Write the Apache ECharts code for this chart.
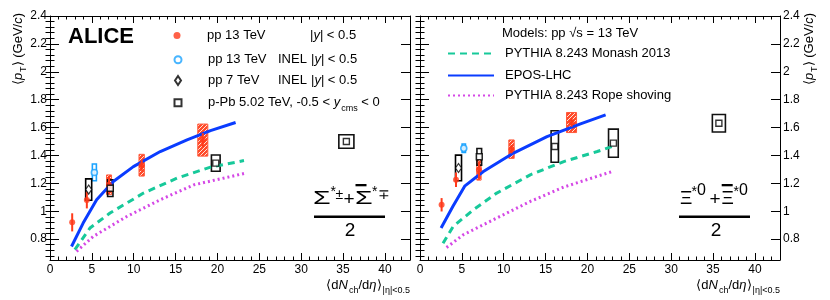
<!DOCTYPE html>
<html><head><meta charset="utf-8">
<script src="https://cdn.jsdelivr.net/npm/echarts@6/dist/echarts.min.js"></script>
<style>html,body{margin:0;padding:0;background:#fff}#c{width:830px;height:300px}</style>
</head><body><div id="c"></div>
<script>
const FONT = '"Liberation Sans", Arial, Helvetica, sans-serif';

// ---- tick labels ----
const xTickLabels = [0, 5, 10, 15, 20, 25, 30, 35, 40];
const yTickLabels = [0.8, 1, 1.2, 1.4, 1.6, 1.8, 2, 2.2, 2.4];

// ---- Sigma* panel: data ----
const sigPP13X = [2.65, 4.4, 7.05, 10.95, 18.25];
const sigPP13Y = [0.92, 1.08, 1.19, 1.33, 1.51];
const sigPP13Stat = [0.065, 0.06, 0.06, 0.04, 0.05];
const sigPP13Sys = [0, 0, 0.07, 0.078, 0.115];
const sigPP13SysX = [0, 0, 0.3, 0.32, 0.6];

const sigINELX = [5.3];
const sigINELY = [1.278];
const sigINELStat = [0.02];
const sigINELSys = [0.06];
const sigINELSysX = [0.24];

const sigPP7X = [4.62];
const sigPP7Y = [1.155];
const sigPP7Sys = [0.077];
const sigPP7SysX = [0.36];

const sigPPbX = [7.2, 19.8, 35.4];
const sigPPbY = [1.165, 1.345, 1.50];
const sigPPbSys = [0.06, 0.058, 0.048];
const sigPPbSysX = [0.32, 0.52, 0.9];

// ---- Sigma* panel: models ----
const sigEposX = [2.57, 3.96, 5.57, 7.56, 9.96, 13.17, 16.37, 19.17, 22.17];
const sigEposY = [0.747, 0.915, 1.082, 1.213, 1.32, 1.428, 1.512, 1.578, 1.636];
const sigMonashX = [2.97, 4.77, 7.17, 11.17, 15.17, 19.17, 23.17];
const sigMonashY = [0.724, 0.879, 0.987, 1.13, 1.237, 1.316, 1.363];
const sigRopeX = [3.17, 5.17, 9.17, 13.17, 17.17, 23.17];
const sigRopeY = [0.712, 0.819, 0.962, 1.082, 1.189, 1.27];

// ---- Xi* panel: data ----
const xiPP13X = [2.58, 4.3, 7.04, 10.93, 18.1];
const xiPP13Y = [1.046, 1.225, 1.297, 1.445, 1.636];
const xiPP13Stat = [0.048, 0.052, 0.06, 0.03, 0.03];
const xiPP13Sys = [0, 0, 0.074, 0.066, 0.072];
const xiPP13SysX = [0, 0, 0.26, 0.32, 0.6];

const xiINELX = [5.23];
const xiINELY = [1.452];
const xiINELStat = [0.012];
const xiINELSys = [0.03];
const xiINELSysX = [0.2];

const xiPP7X = [4.6];
const xiPP7Y = [1.31];
const xiPP7Sys = [0.092];
const xiPP7SysX = [0.36];

const xiPPbX = [7.08, 16.1, 23.1, 35.7];
const xiPPbY = [1.39, 1.464, 1.488, 1.631];
const xiPPbSys = [0.06, 0.113, 0.101, 0.063];
const xiPPbSysX = [0.28, 0.44, 0.58, 0.78];

// ---- Xi* panel: models ----
const xiEposX = [2.52, 3.92, 5.37, 7.57, 11.17, 15.17, 19.17, 22.17];
const xiEposY = [0.879, 1.034, 1.182, 1.285, 1.417, 1.535, 1.626, 1.691];
const xiMonashX = [2.75, 3.97, 6.37, 9.17, 13.17, 17.17, 21.17, 22.97];
const xiMonashY = [0.77, 0.891, 1.01, 1.13, 1.261, 1.356, 1.428, 1.464];
const xiRopeX = [3.17, 5.17, 9.17, 13.17, 17.17, 22.97];
const xiRopeY = [0.74, 0.831, 0.951, 1.07, 1.173, 1.285];

// ---- names ----
const NAME_PP13 = 'pp 13 TeV';
const NAME_INEL = 'pp 13 TeV INEL';
const NAME_PP7 = 'pp 7 TeV INEL';
const NAME_PPB = 'p-Pb 5.02 TeV';
const NAME_MONASH = 'PYTHIA 8.243 Monash 2013';
const NAME_EPOS = 'EPOS-LHC';
const NAME_ROPE = 'PYTHIA 8.243 Rope shoving';

// ---- colours ----
const RED = '#ff3a1a';
const AZURE = '#1aa3ff';
const BLUE = '#0a3cff';
const TEAL = '#17c99a';
const MAGENTA = '#d548e6';

function makeHatch() {
  const c = document.createElement('canvas');
  c.width = 4; c.height = 4;
  const g = c.getContext('2d');
  g.fillStyle = '#ff4a2a'; g.fillRect(0, 0, 4, 4);
  g.strokeStyle = 'rgba(255,235,225,0.95)'; g.lineWidth = 1;
  g.beginPath();
  g.moveTo(0, 4); g.lineTo(4, 0);
  g.moveTo(-1, 1); g.lineTo(1, -1);
  g.moveTo(3, 5); g.lineTo(5, 3);
  g.stroke();
  return c;
}
const HATCH = { image: makeHatch(), repeat: 'repeat' };

const range = (a, b, s) => { const r = []; for (let v = a; v <= b + 1e-9; v += s) r.push(Math.round(v * 1000) / 1000); return r; };
const xMinor = range(0, 43, 1);
const yMinor = range(0.68, 2.4, 0.04);

function xAxesFor(g) {
  const base = { type: 'value', gridIndex: g, min: 0, max: 43, splitLine: { show: false } };
  const tick = (len, vals) => ({ show: true, inside: true, length: len, lineStyle: { color: '#000', width: 1 }, customValues: vals });
  return [
    Object.assign({}, base, { position: 'bottom', axisLine: { show: true, onZero: false, lineStyle: { color: '#000', width: 1 } },
      axisTick: tick(7, xTickLabels),
      axisLabel: { show: true, customValues: xTickLabels, margin: 4, color: '#000', fontSize: 12, fontFamily: FONT } }),
    Object.assign({}, base, { position: 'bottom', axisLine: { show: false }, axisTick: tick(3.5, xMinor), axisLabel: { show: false } }),
    Object.assign({}, base, { position: 'top', axisLine: { show: true, onZero: false, lineStyle: { color: '#000', width: 1 } }, axisTick: tick(7, xTickLabels), axisLabel: { show: false } }),
    Object.assign({}, base, { position: 'top', axisLine: { show: false }, axisTick: tick(3.5, xMinor), axisLabel: { show: false } })
  ];
}
function yAxesFor(g, labelSide) {
  const base = { type: 'value', gridIndex: g, min: 0.65, max: 2.4, splitLine: { show: false } };
  const tick = (len, vals) => ({ show: true, inside: true, length: len, lineStyle: { color: '#000', width: 1 }, customValues: vals });
  const lab = { show: true, customValues: yTickLabels, margin: 3, color: '#000', fontSize: 12, fontFamily: FONT };
  return [
    Object.assign({}, base, { position: 'left', axisLine: { show: true, onZero: false, lineStyle: { color: '#000', width: 1 } }, axisTick: tick(9, yTickLabels), axisLabel: labelSide === 'left' ? lab : { show: false } }),
    Object.assign({}, base, { position: 'left', axisLine: { show: false }, axisTick: tick(4.5, yMinor), axisLabel: { show: false } }),
    Object.assign({}, base, { position: 'right', axisLine: { show: true, onZero: false, lineStyle: { color: '#000', width: 1 } }, axisTick: tick(9, yTickLabels), axisLabel: labelSide === 'right' ? lab : { show: false } }),
    Object.assign({}, base, { position: 'right', axisLine: { show: false }, axisTick: tick(4.5, yMinor), axisLabel: { show: false } })
  ];
}

function boxSeries(name, g, xs, ys, sys, sysx, style, z) {
  const data = [];
  xs.forEach((x, i) => { if (sys[i] > 0) data.push([x, ys[i], sys[i], sysx[i]]); });
  return {
    type: 'custom', name: name + ' (syst.)', xAxisIndex: g * 4, yAxisIndex: g * 4, z: z || 3, silent: true,
    data: data,
    renderItem: function (params, api) {
      const x = api.value(0), y = api.value(1), s = api.value(2), w = api.value(3);
      const p1 = api.coord([x - w, y + s]), p2 = api.coord([x + w, y - s]);
      return { type: 'rect', shape: { x: p1[0], y: p1[1], width: p2[0] - p1[0], height: p2[1] - p1[1] }, style: style };
    }
  };
}
function errSeries(name, g, xs, ys, st, color) {
  return {
    type: 'custom', name: name + ' (stat.)', xAxisIndex: g * 4, yAxisIndex: g * 4, z: 5, silent: true,
    data: xs.map((x, i) => [x, ys[i], st[i]]),
    renderItem: function (params, api) {
      const x = api.value(0), y = api.value(1), s = api.value(2);
      const p1 = api.coord([x, y + s]), p2 = api.coord([x, y - s]);
      return { type: 'line', shape: { x1: p1[0], y1: p1[1], x2: p2[0], y2: p2[1] }, style: { stroke: color, lineWidth: 2 } };
    }
  };
}
function pts(name, g, xs, ys, symbol, size, itemStyle) {
  return { type: 'scatter', name: name, xAxisIndex: g * 4, yAxisIndex: g * 4, z: 6, symbol: symbol, symbolSize: size,
    itemStyle: itemStyle, data: xs.map((x, i) => [x, ys[i]]), silent: true };
}
function model(name, g, xs, ys, color, type) {
  return { type: 'line', name: name, xAxisIndex: g * 4, yAxisIndex: g * 4, z: 4, symbol: 'none', smooth: false,
    lineStyle: { color: color, width: 3, type: type }, itemStyle: { color: color },
    data: xs.map((x, i) => [x, ys[i]]), silent: true };
}

function panelSeries(g, d) {
  return [
    pts(NAME_PP13, g, d.ppX, d.ppY, 'circle', 6, { color: RED }),
    pts(NAME_INEL, g, d.inX, d.inY, 'circle', 6, { color: '#fff', borderColor: AZURE, borderWidth: 1.6 }),
    pts(NAME_PP7, g, d.p7X, d.p7Y, 'diamond', [6, 9], { color: '#fff', borderColor: '#000', borderWidth: 1.2 }),
    pts(NAME_PPB, g, d.pbX, d.pbY, 'rect', 6, { color: '#fff', borderColor: '#000', borderWidth: 1.4 }),
    model(NAME_MONASH, g, d.monX, d.monY, TEAL, [7, 5]),
    model(NAME_EPOS, g, d.eposX, d.eposY, BLUE, 'solid'),
    model(NAME_ROPE, g, d.ropeX, d.ropeY, MAGENTA, [2, 3]),
    boxSeries(NAME_PP13, g, d.ppX, d.ppY, d.ppSys, d.ppSysX, { fill: HATCH, stroke: '#ff5a3c', lineWidth: 1 }, 3),
    boxSeries(NAME_INEL, g, d.inX, d.inY, d.inSys, d.inSysX, { fill: 'none', stroke: AZURE, lineWidth: 1.6 }, 3),
    boxSeries(NAME_PP7, g, d.p7X, d.p7Y, d.p7Sys, d.p7SysX, { fill: 'none', stroke: '#000', lineWidth: 1.6 }, 3),
    boxSeries(NAME_PPB, g, d.pbX, d.pbY, d.pbSys, d.pbSysX, { fill: 'none', stroke: '#111', lineWidth: 1.6 }, 3),
    errSeries(NAME_PP13, g, d.ppX, d.ppY, d.ppStat, RED),
    errSeries(NAME_INEL, g, d.inX, d.inY, d.inStat, AZURE)
  ];
}

const series = [].concat(
  panelSeries(0, { monX: sigMonashX, monY: sigMonashY, eposX: sigEposX, eposY: sigEposY, ropeX: sigRopeX, ropeY: sigRopeY,
    ppX: sigPP13X, ppY: sigPP13Y, ppStat: sigPP13Stat, ppSys: sigPP13Sys, ppSysX: sigPP13SysX,
    inX: sigINELX, inY: sigINELY, inStat: sigINELStat, inSys: sigINELSys, inSysX: sigINELSysX,
    p7X: sigPP7X, p7Y: sigPP7Y, p7Sys: sigPP7Sys, p7SysX: sigPP7SysX,
    pbX: sigPPbX, pbY: sigPPbY, pbSys: sigPPbSys, pbSysX: sigPPbSysX }),
  panelSeries(1, { monX: xiMonashX, monY: xiMonashY, eposX: xiEposX, eposY: xiEposY, ropeX: xiRopeX, ropeY: xiRopeY,
    ppX: xiPP13X, ppY: xiPP13Y, ppStat: xiPP13Stat, ppSys: xiPP13Sys, ppSysX: xiPP13SysX,
    inX: xiINELX, inY: xiINELY, inStat: xiINELStat, inSys: xiINELSys, inSysX: xiINELSysX,
    p7X: xiPP7X, p7Y: xiPP7Y, p7Sys: xiPP7Sys, p7SysX: xiPP7SysX,
    pbX: xiPPbX, pbY: xiPPbY, pbSys: xiPPbSys, pbSysX: xiPPbSysX })
);

const richBase = {
  n: { fontSize: 13, fontFamily: FONT, color: '#000', verticalAlign: 'middle' },
  i: { fontSize: 13, fontFamily: FONT, fontStyle: 'italic', color: '#000', verticalAlign: 'middle' },
  a: { fontSize: 13, fontFamily: FONT, color: '#000', width: 70, verticalAlign: 'middle' },
  b: { fontSize: 13, fontFamily: FONT, color: '#000', width: 33, verticalAlign: 'middle' },
  s21: { fontSize: 13, fontFamily: FONT, width: 21.5, verticalAlign: 'middle' },
  s22: { fontSize: 13, fontFamily: FONT, width: 22, verticalAlign: 'middle' },
  sub: { fontSize: 9, fontFamily: FONT, color: '#000', lineHeight: 8, padding: [11, 0, 0, 1], verticalAlign: 'middle' },
  p: { fontSize: 13, fontFamily: FONT, color: '#000', padding: [0, 0, 0, 6], verticalAlign: 'middle' }
};
const legendRich = {};
legendRich[NAME_PP13] = '{s21|}{a|pp 13 TeV}{b|}{n||}{i|y}{n|| < 0.5}';
legendRich[NAME_INEL] = '{s21|}{a|pp 13 TeV}{b|INEL}{n||}{i|y}{n|| < 0.5}';
legendRich[NAME_PP7] = '{s22|}{a|pp 7 TeV}{b|INEL}{n||}{i|y}{n|| < 0.5}';
legendRich[NAME_PPB] = '{s21|}{n|p-Pb 5.02 TeV, -0.5 < }{i|y}{sub|cms}{n| < 0}';

function legendRow(name, left, top, w, h, fmt, extra) {
  return Object.assign({ orient: 'vertical', left: left, top: top, padding: 0, itemWidth: w, itemHeight: h, selectedMode: false,
    data: [name], formatter: fmt, textStyle: { color: '#000', fontFamily: FONT, fontSize: 13, rich: richBase } }, extra || {});
}
const fmtData = function (n) { return legendRich[n]; };
const fmtModel = function (n) { return '{p|' + n + '}'; };

function glyph(text, x, y, size, extra) {
  return Object.assign({ type: 'text', x: x, y: y, style: { text: text, font: size + 'px ' + FONT, fill: '#000', align: 'left', verticalAlign: 'middle' } }, extra || {});
}

const option = {
  animation: false,
  backgroundColor: '#fff',
  grid: [
    { left: 50, top: 16, width: 360, height: 244 },
    { left: 420, top: 16, width: 360, height: 244 }
  ],
  xAxis: [].concat(xAxesFor(0), xAxesFor(1)),
  yAxis: [].concat(yAxesFor(0, 'left'), yAxesFor(1, 'right')),
  legend: [
    legendRow(NAME_PP13, 173.5, 29, 7, 7, fmtData),
    legendRow(NAME_INEL, 173.5, 53.3, 7, 7, fmtData),
    legendRow(NAME_PP7, 174, 74, 6, 9, fmtData),
    legendRow(NAME_PPB, 173.5, 92.7, 7, 7, fmtData),
    legendRow(NAME_MONASH, 447, 47, 46, 10, fmtModel, { itemStyle: { opacity: 0 } }),
    legendRow(NAME_EPOS, 447, 69, 46, 10, fmtModel, { itemStyle: { opacity: 0 } }),
    legendRow(NAME_ROPE, 447, 89, 46, 10, fmtModel, { itemStyle: { opacity: 0 } })
  ],
  graphic: [
    { type: 'text', x: 68, y: 37, style: { text: 'ALICE', font: 'bold 22px ' + FONT, fill: '#000', verticalAlign: 'middle', align: 'left' } },
    { type: 'text', x: 502, y: 33, style: { text: '{n|Models: pp √s = 13 TeV}', rich: richBase, verticalAlign: 'middle', align: 'left' } },
    // y titles
    { type: 'text', x: 18, y: 13, rotation: Math.PI / 2, style: { text: '{n|⟨}{i|p}{sub|T}{n|⟩ (GeV/}{i|c}{n|)}', rich: richBase, align: 'right', verticalAlign: 'middle' } },
    { type: 'text', x: 809, y: 13, rotation: Math.PI / 2, style: { text: '{n|⟨}{i|p}{sub|T}{n|⟩ (GeV/}{i|c}{n|)}', rich: richBase, align: 'right', verticalAlign: 'middle' } },
    // x titles
    { type: 'text', x: 410, y: 285, style: { text: '{n|⟨d}{i|N}{sub|ch}{n|/d}{i|η}{n|⟩}{sub||η|<0.5}', rich: richBase, align: 'right', verticalAlign: 'middle' } },
    { type: 'text', x: 780, y: 285, style: { text: '{n|⟨d}{i|N}{sub|ch}{n|/d}{i|η}{n|⟩}{sub||η|<0.5}', rich: richBase, align: 'right', verticalAlign: 'middle' } },
    // Sigma fraction
    glyph('Σ', 313, 198.5, 19, { scaleX: 1.5 }),
    glyph('*', 330.5, 192, 14),
    glyph('±', 335.5, 195, 14),
    glyph('+', 343.5, 199.5, 19),
    glyph('Σ', 355, 198.5, 19, { scaleX: 1.5 }),
    { type: 'rect', shape: { x: 355.5, y: 184, width: 11, height: 2.3 }, style: { fill: '#000' } },
    glyph('*', 372, 192, 14),
    glyph('∓', 377.5, 195, 14),
    { type: 'rect', shape: { x: 314, y: 215.5, width: 71, height: 2.5 }, style: { fill: '#000' } },
    { type: 'text', x: 350, y: 231, style: { text: '2', font: '19px ' + FONT, fill: '#000', align: 'center', verticalAlign: 'middle' } },
    // Xi fraction
    glyph('Ξ', 680, 198.5, 19),
    glyph('*', 691.5, 192, 14),
    glyph('0', 697, 191, 16),
    glyph('+', 709.5, 199.5, 19),
    glyph('Ξ', 721.5, 198.5, 19),
    { type: 'rect', shape: { x: 721.7, y: 184, width: 11, height: 2.3 }, style: { fill: '#000' } },
    glyph('*', 733.5, 192, 14),
    glyph('0', 739, 191, 16),
    { type: 'rect', shape: { x: 679, y: 215.5, width: 71, height: 2.5 }, style: { fill: '#000' } },
    { type: 'text', x: 716, y: 231, style: { text: '2', font: '19px ' + FONT, fill: '#000', align: 'center', verticalAlign: 'middle' } }
  ],
  series: series
};

const chart = echarts.init(document.getElementById('c'), null, { renderer: 'canvas' });
chart.setOption(option);
</script></body></html>
